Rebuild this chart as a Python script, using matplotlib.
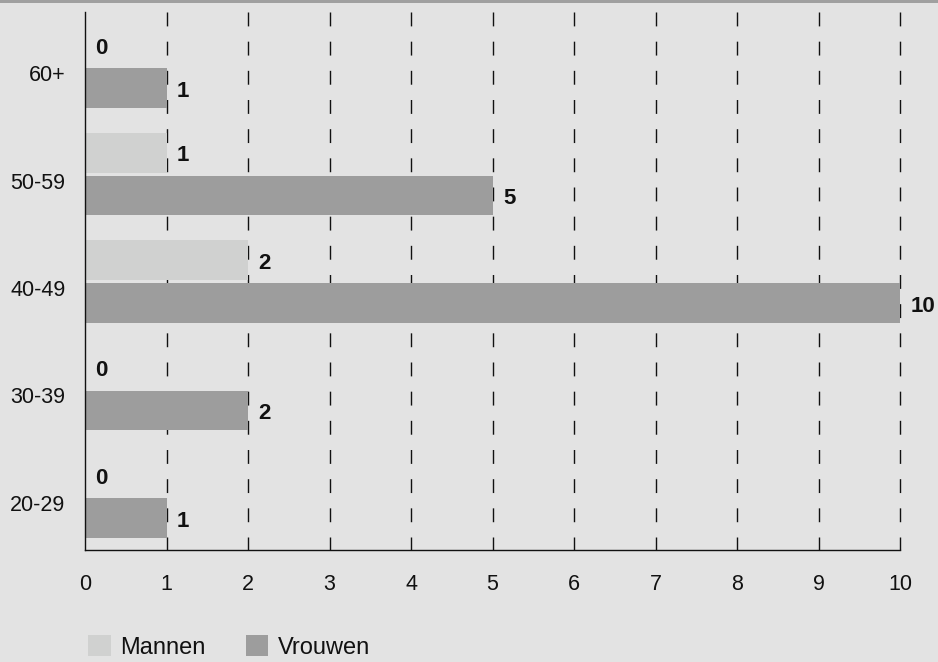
import matplotlib
matplotlib.use("Agg")
import matplotlib.pyplot as plt
from matplotlib.patches import Rectangle, Patch
import numpy as np

# -- Data -------------------------------------------------------------------
categories = ["20-29", "30-39", "40-49", "50-59", "60+"]
mannen = [0, 0, 2, 1, 0]
vrouwen = [1, 2, 10, 5, 1]
x_ticks = list(range(0, 11))

# -- Style ------------------------------------------------------------------
BG = "#e3e3e3"
MANNEN_C = "#d0d1d0"
VROUWEN_C = "#9d9d9d"
TOP_BAND = "#a0a0a0"

plt.rcParams["font.family"] = ["Liberation Sans", "DejaVu Sans"]

fig = plt.figure(figsize=(9.38, 6.62), dpi=100)
fig.patch.set_facecolor(BG)
fig.patches.append(Rectangle((0, 1 - 3 / 662), 1, 3 / 662,
                             transform=fig.transFigure, facecolor=TOP_BAND,
                             edgecolor="none"))

ax = fig.add_axes([85 / 938, 1 - 550 / 662, 815 / 938, 538 / 662])
ax.set_facecolor(BG)

y = np.arange(len(categories))
bar_h = 0.37
ymin, ymax = -0.44, 4.57

# dashed vertical grid lines, pattern starting at the top
for xv in x_ticks[1:]:
    ax.plot([xv, xv], [ymax, ymin], color="#111111", lw=1.0,
            dashes=(10, 11), zorder=1, clip_on=False)

bm = ax.barh(y + 0.26, mannen, height=bar_h, color=MANNEN_C, zorder=2,
             label="Mannen")
bv = ax.barh(y - 0.14, vrouwen, height=bar_h, color=VROUWEN_C, zorder=2,
             label="Vrouwen")

for bars, vals in ((bm, mannen), (bv, vrouwen)):
    for b, v in zip(bars, vals):
        ax.text(v + 0.13, b.get_y() + b.get_height() / 2 - 0.03, str(v),
                ha="left", va="center", fontsize=16, fontweight="bold",
                color="#111111", clip_on=False)

ax.set_xlim(0, 10)
ax.set_ylim(ymin, ymax)
ax.set_xticks(x_ticks)
ax.set_yticks(y)
ax.set_yticklabels(categories)
ax.tick_params(axis="x", length=0, pad=17, labelsize=15.5, colors="#111111")
ax.tick_params(axis="y", length=0, pad=14, labelsize=15.5, colors="#111111")

for side in ("top", "right"):
    ax.spines[side].set_visible(False)
for side in ("left", "bottom"):
    ax.spines[side].set_color("#111111")
    ax.spines[side].set_linewidth(1.0)

handles = [Patch(facecolor=MANNEN_C, label="Mannen"),
           Patch(facecolor=VROUWEN_C, label="Vrouwen")]
fig.legend(handles=handles, loc="upper left",
           bbox_to_anchor=(79 / 938, 1 - 626 / 662), ncol=2, frameon=False,
           fontsize=17, handlelength=0.95, handleheight=0.95,
           handletextpad=0.4, columnspacing=1.7, borderaxespad=0,
           labelcolor="#111111")

fig.savefig("out.png", dpi=100, facecolor=fig.get_facecolor())
